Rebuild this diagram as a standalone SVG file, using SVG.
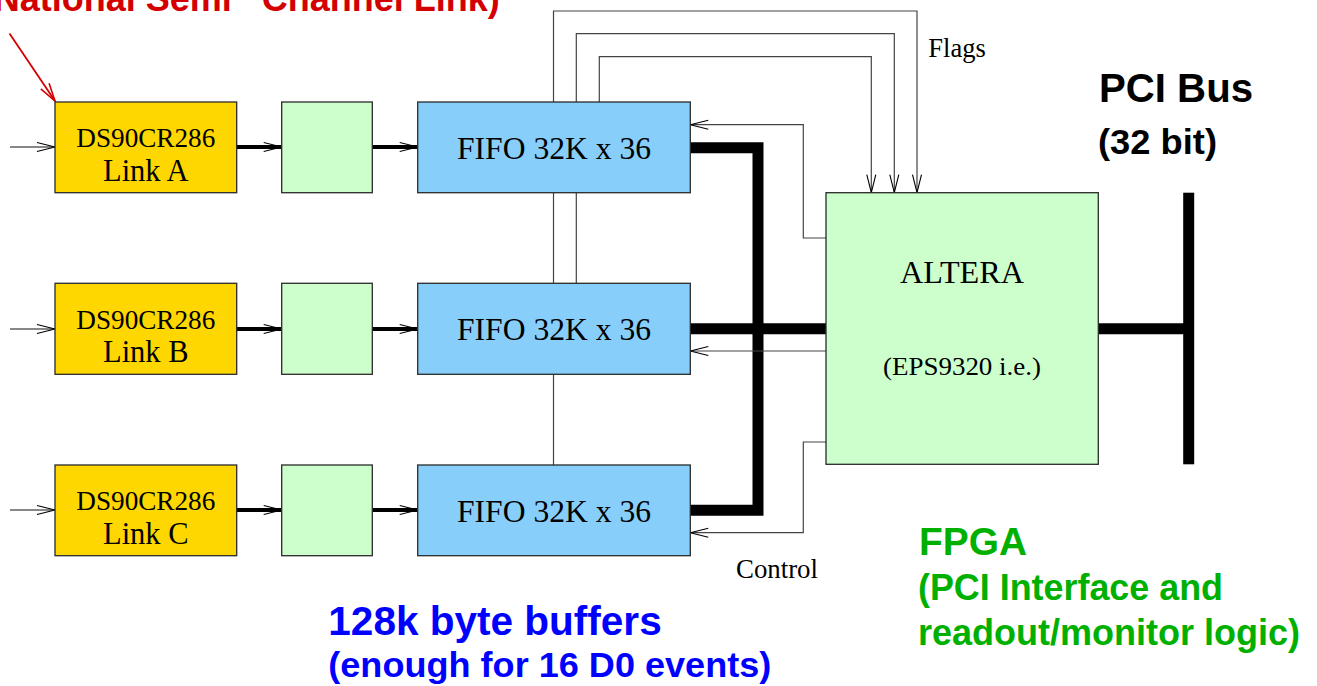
<svg xmlns="http://www.w3.org/2000/svg" width="1317" height="686" viewBox="0 0 1317 686">
<style>
.box{stroke:#2a2a2a;stroke-width:1.3}
.link{fill:#ffd700}
.buf{fill:#ccffcc}
.fifo{fill:#87cefa}
.alt{fill:#ccffcc}
.serif{font-family:"Liberation Serif","Times New Roman",serif;fill:#000}
.sans{font-family:"Liberation Sans",Arial,sans-serif;font-weight:bold}
.thin{fill:none;stroke:#444;stroke-width:1.2}
.thinblk{fill:none;stroke:#111;stroke-width:1.1}
.mid{fill:none;stroke:#000;stroke-width:4}
.bus{fill:none;stroke:#000;stroke-width:11;stroke-linejoin:miter;stroke-linecap:butt}
</style>
<defs>
<marker id="open" viewBox="-20 -6 22 12" refX="0" refY="0" markerWidth="22" markerHeight="12" markerUnits="userSpaceOnUse" orient="auto" overflow="visible">
<path d="M-18,-4.5 L0,0 L-18,4.5" fill="none" stroke="#000" stroke-width="1.1"/>
</marker>
<marker id="openRed" viewBox="-20 -6 22 12" refX="0" refY="0" markerWidth="22" markerHeight="12" markerUnits="userSpaceOnUse" orient="auto" overflow="visible">
<path d="M-18,-5 L0,0 L-18,5" fill="none" stroke="#d40000" stroke-width="1.6"/>
</marker>
</defs>
<rect width="1317" height="686" fill="#fff"/>

<g id="connectors">
<!-- inputs -->
<path class="thinblk" d="M10,147 H55" marker-end="url(#open)"/>
<path class="thinblk" d="M10,329 H55" marker-end="url(#open)"/>
<path class="thinblk" d="M10,510 H55" marker-end="url(#open)"/>
<!-- red pointer -->
<path d="M9.5,33.5 L55,101" fill="none" stroke="#d40000" stroke-width="1.8" marker-end="url(#openRed)"/>
<!-- link -> buffer -> fifo -->
<path class="mid" d="M236.7,147 H281.7" marker-end="url(#open)"/>
<path class="mid" d="M372.3,147 H417.7" marker-end="url(#open)"/>
<path class="mid" d="M236.7,329 H281.7" marker-end="url(#open)"/>
<path class="mid" d="M372.3,329 H417.7" marker-end="url(#open)"/>
<path class="mid" d="M236.7,510 H281.7" marker-end="url(#open)"/>
<path class="mid" d="M372.3,510 H417.7" marker-end="url(#open)"/>
<!-- flags -->
<path class="thin" d="M553.5,102 V11 H917 V192.7" marker-end="url(#open)"/>
<path class="thin" d="M576.3,102 V33.7 H894.3 V192.7" marker-end="url(#open)"/>
<path class="thin" d="M599.3,102 V56.7 H871.3 V192.7" marker-end="url(#open)"/>
<path class="thin" d="M553.5,192.7 V283.3 M576.3,192.7 V283.3 M553.5,374 V465"/>
<!-- data bus -->
<path class="bus" d="M690.3,147.7 H758 V510.3 H690.3"/>
<path class="bus" d="M690.3,328.7 H826"/>
<path class="bus" d="M1098.3,328.7 H1189"/>
<!-- control -->
<path class="thin" d="M826,238 H803.3 V124.7 H690.3" marker-end="url(#open)"/>
<path class="thin" d="M826,351 H690.3" marker-end="url(#open)"/>
<path class="thin" d="M826,442 H803.3 V532.7 H690.3" marker-end="url(#open)"/>
</g>

<g id="link-a">
<rect class="box link" x="55" y="102" width="181.7" height="90.7"/>
<text class="serif" x="145.8" y="147.3" font-size="28" text-anchor="middle" textLength="139" lengthAdjust="spacingAndGlyphs">DS90CR286</text>
<text class="serif" x="145.8" y="180.7" font-size="30.5" text-anchor="middle">Link A</text>
</g>
<g id="link-b">
<rect class="box link" x="55" y="283.3" width="181.7" height="91"/>
<text class="serif" x="145.8" y="328.6" font-size="28" text-anchor="middle" textLength="139" lengthAdjust="spacingAndGlyphs">DS90CR286</text>
<text class="serif" x="145.8" y="362" font-size="30.5" text-anchor="middle">Link B</text>
</g>
<g id="link-c">
<rect class="box link" x="55" y="465" width="181.7" height="90.7"/>
<text class="serif" x="145.8" y="510.3" font-size="28" text-anchor="middle" textLength="139" lengthAdjust="spacingAndGlyphs">DS90CR286</text>
<text class="serif" x="145.8" y="543.7" font-size="30.5" text-anchor="middle">Link C</text>
</g>

<g id="buffer-a"><rect class="box buf" x="281.7" y="102" width="90.6" height="90.7"/></g>
<g id="buffer-b"><rect class="box buf" x="281.7" y="283.3" width="90.6" height="91"/></g>
<g id="buffer-c"><rect class="box buf" x="281.7" y="465" width="90.6" height="90.7"/></g>

<g id="fifo-a">
<rect class="box fifo" x="417.7" y="102" width="272.6" height="90.7"/>
<text class="serif" x="554" y="159.3" font-size="31.5" text-anchor="middle" textLength="194" lengthAdjust="spacingAndGlyphs">FIFO 32K x 36</text>
</g>
<g id="fifo-b">
<rect class="box fifo" x="417.7" y="283.3" width="272.6" height="91"/>
<text class="serif" x="554" y="340.3" font-size="31.5" text-anchor="middle" textLength="194" lengthAdjust="spacingAndGlyphs">FIFO 32K x 36</text>
</g>
<g id="fifo-c">
<rect class="box fifo" x="417.7" y="465" width="272.6" height="90.7"/>
<text class="serif" x="554" y="521.7" font-size="31.5" text-anchor="middle" textLength="194" lengthAdjust="spacingAndGlyphs">FIFO 32K x 36</text>
</g>

<g id="altera">
<rect class="box alt" x="826" y="192.7" width="272.3" height="271.6"/>
<text class="serif" x="962" y="283" font-size="31" text-anchor="middle" textLength="124" lengthAdjust="spacingAndGlyphs">ALTERA</text>
<text class="serif" x="962" y="374.5" font-size="25.5" text-anchor="middle" textLength="158" lengthAdjust="spacingAndGlyphs">(EPS9320 i.e.)</text>
</g>

<g id="pci-bus">
<rect x="1183.2" y="192.7" width="11" height="271.6" fill="#000"/>
</g>

<g id="labels">
<text class="serif" x="928.3" y="56.7" font-size="26.5">Flags</text>
<text class="serif" x="736" y="578.3" font-size="27" textLength="82" lengthAdjust="spacingAndGlyphs">Control</text>
<text class="sans" fill="#d40000" x="-6.3" y="11" font-size="36">National Semi<tspan x="261.7">Channel Link)</tspan></text>
<text class="sans" fill="#000" x="1099" y="101.7" font-size="40" textLength="154" lengthAdjust="spacingAndGlyphs">PCI Bus</text>
<text class="sans" fill="#000" x="1098" y="154" font-size="35" textLength="119" lengthAdjust="spacingAndGlyphs">(32 bit)</text>
<text class="sans" fill="#00b000" x="919" y="555" font-size="39" textLength="108" lengthAdjust="spacingAndGlyphs">FPGA</text>
<text class="sans" fill="#00b000" x="918" y="600" font-size="36" textLength="305" lengthAdjust="spacingAndGlyphs">(PCI Interface and</text>
<text class="sans" fill="#00b000" x="918" y="645" font-size="36" textLength="382" lengthAdjust="spacingAndGlyphs">readout/monitor logic)</text>
<text class="sans" fill="#0000ff" x="328.3" y="635" font-size="40" textLength="333.4" lengthAdjust="spacingAndGlyphs">128k byte buffers</text>
<text class="sans" fill="#0000ff" x="328.3" y="677" font-size="35" textLength="443" lengthAdjust="spacingAndGlyphs">(enough for 16 D0 events)</text>
</g>
</svg>
